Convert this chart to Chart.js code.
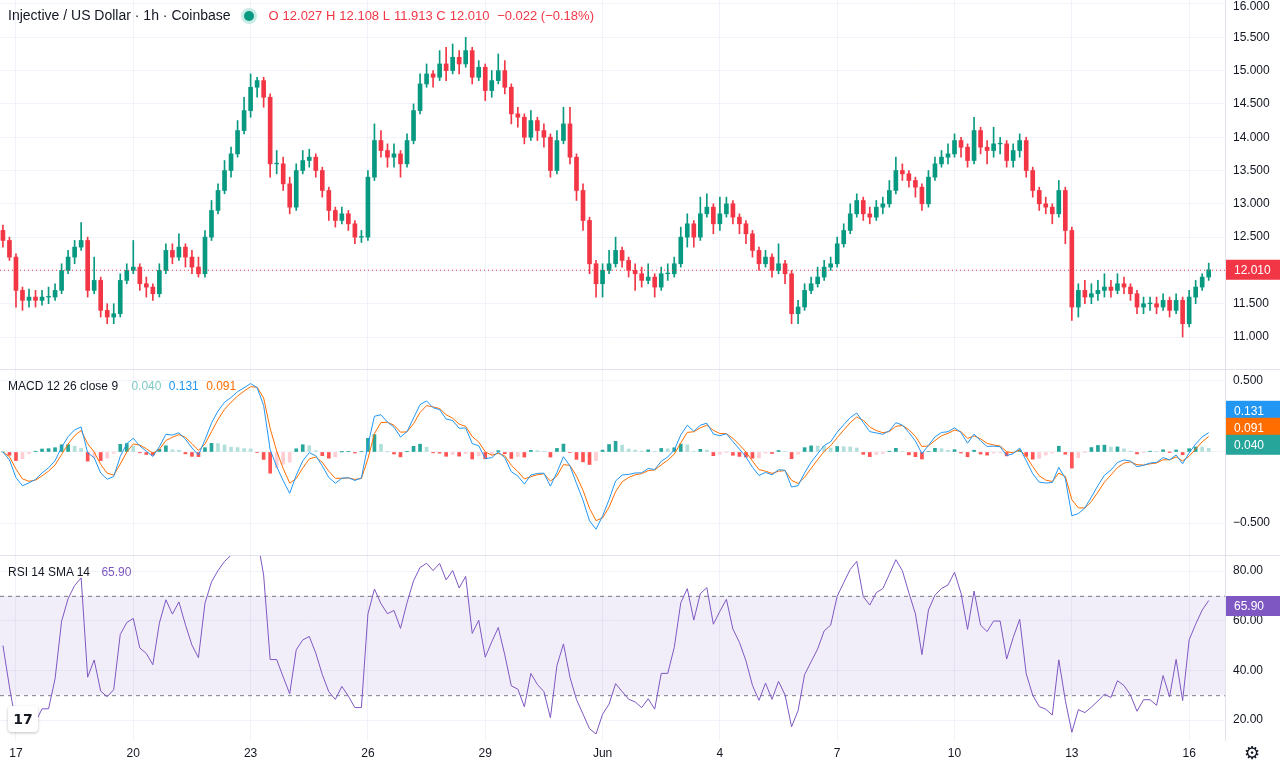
<!DOCTYPE html>
<html><head><meta charset="utf-8">
<script src="https://cdn.jsdelivr.net/npm/chart.js@4.4.1/dist/chart.umd.min.js"></script>
<style>
body{margin:0;background:#fff;font-family:"Liberation Sans",Arial,sans-serif;overflow:hidden}
#wrap{position:relative;width:1280px;height:768px}
canvas{position:absolute;left:0}
.sep{position:absolute;left:0;width:1280px;height:1px;background:#e0e3eb}
.lg{position:absolute;left:8px;font-size:13px;color:#131722;white-space:nowrap}
.lg span{margin-left:4px}
</style></head><body>
<div id="wrap">
<canvas id="c1" width="1280" height="369" style="top:0"></canvas>
<div class="sep" style="top:369px"></div>
<canvas id="c2" width="1280" height="185" style="top:370px"></canvas>
<div class="sep" style="top:555px"></div>
<canvas id="c3" width="1280" height="212" style="top:556px"></canvas>
<div class="lg" style="top:7px;font-size:14px">Injective / US Dollar · 1h · Coinbase <span style="display:inline-block;width:10px;height:10px;border-radius:50%;background:#089981;box-shadow:0 0 0 3px #c8ebe4;margin:0 10px 0 10px;vertical-align:-1px"></span><span style="color:#f23645;font-size:13px">O<span>12.027</span> H<span>12.108</span> L<span>11.913</span> C<span>12.010</span> <span>−0.022 (−0.18%)</span></span></div>
<div class="lg" style="top:379px;font-size:12px">MACD 12 26 close 9 <span style="color:#80cbc4;margin-left:10px">0.040</span> <span style="color:#2196f3">0.131</span> <span style="color:#ff6d00">0.091</span></div>
<div class="lg" style="top:565px;font-size:12px">RSI 14 SMA 14 <span style="color:#7e57c2;margin-left:8px">65.90</span></div>
<div style="position:absolute;left:8px;top:706px;width:30px;height:26px;background:#fff;border-radius:4px;box-shadow:0 1px 3px rgba(0,0,0,.25);font:bold 14px 'DejaVu Sans';color:#131722;text-align:center;line-height:26px">17</div>
<div style="position:absolute;left:1244px;top:742px;font-size:18px;color:#131722">⚙</div>
</div>
<script>
const closes=[12.45,12.2,
11.7,11.55,11.6,11.55,11.6,11.6,
11.7,12.0,12.2,12.35,12.45,11.7,
11.85,11.4,11.3,11.35,11.85,12.0,
12.05,11.8,11.75,11.65,12.0,12.3,
12.2,12.35,12.2,12.05,11.95,12.5,
12.9,13.2,13.5,13.75,14.1,14.4,
14.75,14.85,14.6,13.6,13.6,13.3,
12.95,13.5,13.65,13.7,13.5,13.2,
12.9,12.75,12.85,12.7,12.5,12.5,
13.4,13.95,13.8,13.7,13.75,13.6,
13.95,14.4,14.8,14.95,14.9,15.1,
15.0,15.2,15.1,15.3,14.9,15.05,
14.7,14.85,15.0,14.75,14.35,14.3,
14.0,14.25,14.1,14.0,13.5,13.95,
14.2,13.7,13.2,12.75,12.1,11.8,
12.0,12.1,12.3,12.15,12.0,11.95,
11.85,11.9,11.75,11.95,11.95,12.1,
12.5,12.7,12.5,12.85,12.95,12.7,
12.85,13.0,12.8,12.7,12.55,12.3,
12.1,12.2,12.0,12.1,11.95,11.35,
11.45,11.7,11.8,11.9,12.05,12.1,
12.4,12.6,12.85,13.05,12.85,12.8,
12.95,13.0,13.2,13.5,13.45,13.35,
13.25,13.0,13.4,13.6,13.7,13.75,
13.95,13.85,13.65,14.1,13.85,13.8,
13.9,13.9,13.65,13.8,13.95,13.5,
13.2,13.0,12.95,12.85,13.2,12.6,
11.45,11.7,11.6,11.65,11.7,11.75,
11.7,11.8,11.75,11.65,11.45,11.5,
11.5,11.45,11.55,11.4,11.55,11.2,
11.6,11.75,11.9,12.01];
const firstOpen=12.6;
const highs=[12.68,12.5,
12.25,11.75,11.72,11.7,11.7,11.75,
11.8,12.1,12.3,12.45,12.72,12.5,
12.2,11.9,11.5,11.5,11.95,12.1,
12.45,12.1,11.9,11.8,12.1,12.4,
12.4,12.55,12.4,12.3,12.2,12.6,
13.05,13.3,13.65,13.85,14.25,14.6,
14.95,14.9,14.9,14.65,13.8,13.7,
13.4,13.6,13.8,13.82,13.75,13.55,
13.25,12.95,12.95,12.9,12.75,12.6,
13.5,14.2,14.1,13.9,13.9,13.8,
14.05,14.5,14.95,15.1,15.0,15.3,
15.35,15.4,15.3,15.5,15.35,15.15,
15.1,15.0,15.25,15.15,14.8,14.45,
14.35,14.4,14.3,14.2,14.05,14.1,
14.45,14.45,13.75,13.3,12.8,12.15,
12.1,12.3,12.5,12.35,12.2,12.1,
12.05,12.1,11.95,12.05,12.1,12.2,
12.65,12.85,12.75,13.1,13.15,13.0,
13.1,13.1,13.05,12.85,12.75,12.6,
12.35,12.3,12.25,12.4,12.15,12.0,
11.55,11.8,11.9,12.05,12.15,12.2,
12.5,12.7,13.0,13.15,13.1,12.95,
13.05,13.1,13.35,13.7,13.6,13.5,
13.4,13.3,13.5,13.7,13.8,13.9,
14.05,14.0,13.9,14.3,14.15,13.95,
14.15,14.0,13.95,13.9,14.05,14.0,
13.55,13.25,13.1,13.0,13.35,13.25,
12.65,11.8,11.85,11.8,11.85,11.95,
11.85,11.95,11.9,11.8,11.7,11.6,
11.6,11.6,11.65,11.6,11.65,11.6,
11.7,11.85,11.95,12.11];
const lows=[12.35,12.15,
11.45,11.4,11.45,11.45,11.48,11.5,
11.55,11.65,11.95,12.1,12.3,11.6,
11.65,11.3,11.2,11.2,11.3,11.8,
11.95,11.7,11.6,11.55,11.6,11.95,
12.1,12.15,12.05,11.95,11.9,11.9,
12.45,12.85,13.15,13.4,13.7,14.05,
14.3,14.6,14.45,13.4,13.45,13.2,
12.85,12.9,13.45,13.55,13.4,13.1,
12.75,12.65,12.7,12.6,12.4,12.42,
12.45,13.35,13.7,13.55,13.55,13.4,
13.55,13.9,14.35,14.75,14.75,14.85,
14.85,14.95,14.95,15.05,14.8,14.85,
14.55,14.6,14.8,14.65,14.2,14.15,
13.9,13.95,13.95,13.85,13.4,13.45,
13.9,13.6,13.05,12.6,11.95,11.6,
11.6,11.95,12.05,12.05,11.9,11.7,
11.75,11.8,11.6,11.7,11.85,11.9,
12.05,12.35,12.35,12.45,12.8,12.55,
12.6,12.8,12.7,12.55,12.4,12.2,
12.0,12.05,11.9,11.95,11.8,11.2,
11.2,11.4,11.65,11.75,11.85,12.0,
12.05,12.35,12.55,12.8,12.75,12.7,
12.75,12.85,12.95,13.15,13.35,13.25,
13.1,12.9,12.95,13.35,13.55,13.6,
13.7,13.7,13.55,13.6,13.75,13.6,
13.7,13.75,13.55,13.55,13.7,13.4,
13.1,12.9,12.85,12.7,12.8,12.4,
11.25,11.3,11.5,11.5,11.55,11.6,
11.6,11.65,11.65,11.55,11.35,11.35,
11.4,11.35,11.4,11.3,11.35,11.0,
11.15,11.5,11.7,11.85];
const dayLabels=["17","20","23","26","29","Jun","4","7","10","13","16"];
const priceTicks=[11,11.5,12,12.5,13,13.5,14,14.5,15,15.5,16];
const macdTicks=[-0.5,0,0.5];
const rsiTicks=[20,40,60,80];
const lastPrice=12.01;
const macdLegend={hist:0.040,macd:0.131,signal:0.091};
const rsiLast=65.90;

const GREEN="#089981",RED="#f23645",GRID="#f0f3fa";
const hours=closes.map((_,i)=>-8+4*i);
const opens=closes.map((c,i)=>i?closes[i-1]:firstOpen);
function ema(arr,n){const a=1-Math.pow(1-2/(n+1),4);let out=[],v=arr[0];arr.forEach((x,i)=>{v=i?v+a*(x-v):x;out.push(v)});return out}
const e12=ema(closes,12),e26=ema(closes,26);
const macd=e12.map((v,i)=>v-e26[i]);
const sig=ema(macd,9);
const hist=macd.map((v,i)=>v-sig[i]);
const histCol=hist.map((h,i)=>{const p=i?hist[i-1]:h;return h>=0?(h>=p?"#26a69a":"#b2dfdb"):(h<p?"#ff5252":"#ffcdd2")});
let ag=0.05,al=0.05;const rsi=closes.map((c,i)=>{if(!i)return 50;const d=c-closes[i-1];const a=1/6;ag+=a*(Math.max(d,0)-ag);al+=a*(Math.max(-d,0)-al);return 100-100/(1+ag/al)});

const XMIN=-9.8,XMAX=742;
function xScale(showLabels){return{type:"linear",min:XMIN,max:XMAX,offset:false,
 afterBuildTicks:s=>{s.ticks=dayLabels.map((_,i)=>({value:i*72}))},
 ticks:{display:showLabels,autoSkip:false,maxRotation:0,color:"#131722",font:{size:12,family:"Liberation Sans"},padding:6,callback:(v,i)=>dayLabels[i]},
 grid:{color:GRID,drawTicks:false,offset:false},border:{display:false},
 afterFit:s=>{s.height=showLabels?28:0}}}
function yScale(min,max,ticks){return{position:"right",min,max,
 afterBuildTicks:s=>{s.ticks=ticks.map(v=>({value:v}))},
 ticks:{display:false},
 grid:{color:GRID,drawTicks:false},border:{color:"#e0e3eb"},afterFit:s=>{s.width=55}}}
function yLabels(fmt){return{id:"yl",afterDraw(ch){const {ctx,chartArea:ca}=ch;const s=ch.scales.y;ctx.save();ctx.fillStyle="#131722";ctx.font="12px Liberation Sans";ctx.textBaseline="middle";s.ticks.forEach(t=>{ctx.fillText(fmt(t.value),ca.right+8,Math.max(7,s.getPixelForValue(t.value)))});ctx.restore()}}}
function box(ctx,ca,y,bg,txt){ctx.fillStyle=bg;ctx.fillRect(ca.right+1,y-10,54,20);ctx.fillStyle="#fff";ctx.font="12px Liberation Sans";ctx.textBaseline="middle";ctx.fillText(txt,ca.right+9,y+1)}
const base={responsive:false,animation:false,devicePixelRatio:1,plugins:{legend:{display:false},tooltip:{enabled:false}},layout:{padding:0}};

new Chart(c1,{type:"bar",data:{datasets:[
 {data:hours.map((h,i)=>({x:h,y:[lows[i],highs[i]]})),backgroundColor:closes.map((c,i)=>c>=opens[i]?GREEN:RED),barThickness:1,grouped:false},
 {data:hours.map((h,i)=>({x:h,y:[opens[i],closes[i]===opens[i]?closes[i]+0.01:closes[i]]})),backgroundColor:closes.map((c,i)=>c>=opens[i]?GREEN:RED),barThickness:4,grouped:false}
]},options:{...base,scales:{x:xScale(false),y:yScale(10.52,16.06,priceTicks)}},
plugins:[yLabels(v=>v.toFixed(3)),{id:"pl",afterDraw(ch){const {ctx,chartArea:ca}=ch;const y=ch.scales.y.getPixelForValue(lastPrice);ctx.save();ctx.strokeStyle=RED;ctx.setLineDash([1,3]);ctx.beginPath();ctx.moveTo(ca.left,y+.5);ctx.lineTo(ca.right,y+.5);ctx.stroke();ctx.setLineDash([]);box(ctx,ca,y,RED,lastPrice.toFixed(3));ctx.restore()}}]});

new Chart(c2,{type:"bar",data:{datasets:[
 {type:"line",data:hours.map((h,i)=>({x:h,y:macd[i]})),borderColor:"#2196f3",borderWidth:1,pointRadius:0,order:0},
 {type:"line",data:hours.map((h,i)=>({x:h,y:sig[i]})),borderColor:"#ff6d00",borderWidth:1,pointRadius:0,order:0},
 {data:hours.map((h,i)=>({x:h,y:hist[i]})),backgroundColor:histCol,barThickness:3,order:1}
]},options:{...base,scales:{x:xScale(false),y:yScale(-0.725,0.577,macdTicks)}},
plugins:[yLabels(v=>v===0?"":(v<0?"−":"")+Math.abs(v).toFixed(3)),{id:"mb",afterDraw(ch){const {ctx,chartArea:ca}=ch;const y0=ch.scales.y.getPixelForValue(0.29);ctx.save();box(ctx,ca,y0,"#2196f3",macdLegend.macd.toFixed(3));box(ctx,ca,y0+17,"#ff6d00",macdLegend.signal.toFixed(3));box(ctx,ca,y0+34,"#26a69a",macdLegend.hist.toFixed(3));ctx.restore()}}]});

new Chart(c3,{type:"line",data:{datasets:[
 {data:hours.map((h,i)=>({x:h,y:rsi[i]})),borderColor:"#7e57c2",borderWidth:1,pointRadius:0}
]},options:{...base,scales:{x:xScale(true),y:yScale(11.95,86.04,rsiTicks)}},
plugins:[yLabels(v=>v.toFixed(2)),{id:"rb",beforeDatasetsDraw(ch){const {ctx,chartArea:ca}=ch;const s=ch.scales.y;const y70=s.getPixelForValue(70),y30=s.getPixelForValue(30);ctx.save();ctx.fillStyle="rgba(126,87,194,0.1)";ctx.fillRect(ca.left,y70,ca.width,y30-y70);ctx.strokeStyle="#787b86";ctx.setLineDash([4,4]);[y70,y30].forEach(y=>{ctx.beginPath();ctx.moveTo(ca.left,y+.5);ctx.lineTo(ca.right,y+.5);ctx.stroke()});ctx.restore()},
 afterDraw(ch){const {ctx,chartArea:ca}=ch;ctx.save();box(ctx,ca,ch.scales.y.getPixelForValue(rsiLast),"#7e57c2",rsiLast.toFixed(2));ctx.restore()}}]});
</script></body></html>
